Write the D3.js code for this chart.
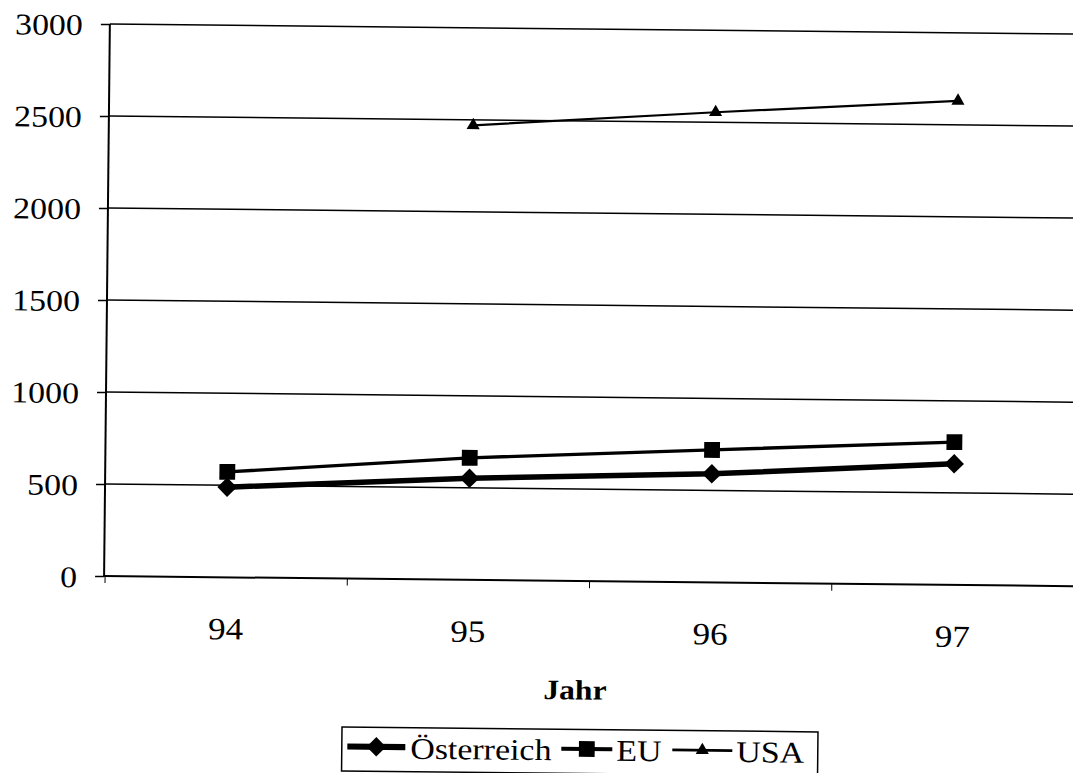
<!DOCTYPE html>
<meta charset="utf-8">
<style>
  body { margin: 0; background: #fff; }
  text { font-family: "Liberation Serif", "Times New Roman", serif; fill: #000; }
</style>
<script src="https://d3js.org/d3.v7.min.js"></script>
<div id="chart"></div>
<script>

// data
var years    = ["94", "95", "96", "97"];
var austria  = [490, 552, 590, 658];
var eu       = [573, 663, 720, 776];
var usa      = [null, 2470, 2555, 2630];
var yTicks   = [0, 500, 1000, 1500, 2000, 2500, 3000];
var names    = ["Österreich", "EU", "USA"];

var W = 1073, H = 773;
var plotLeft = 107, plotRight = 1077, plotTop = 28.5, plotBottom = 580.6;
var stretch = 1.13;   // the scan is a bit wider than a plain serif face

var svg = d3.select("#chart").append("svg")
    .attr("width", W).attr("height", H);

// the whole picture is slightly tilted, like the scan
var g = svg.append("g").attr("transform", "rotate(0.6, 540, 300)");

var x = d3.scaleBand().domain(years).range([plotLeft + 1, plotRight]);
var y = d3.scaleLinear().domain([0, 3000]).range([plotBottom, plotTop]);

function widen(sel) {
  sel.each(function() {
    var w = this.getComputedTextLength();
    d3.select(this).attr("textLength", w * stretch).attr("lengthAdjust", "spacingAndGlyphs");
  });
}

// horizontal grid lines
g.append("g").selectAll("line")
  .data(yTicks.filter(function(d) { return d > 0; }))
  .enter().append("line")
    .attr("x1", plotLeft).attr("x2", W + 20)
    .attr("y1", function(d) { return y(d); })
    .attr("y2", function(d) { return y(d); })
    .attr("stroke", "#000").attr("stroke-width", 1.5);

// y axis
var yAxis = g.append("g")
    .attr("transform", "translate(" + plotLeft + ",0)")
    .call(d3.axisLeft(y).tickValues(yTicks).tickFormat(d3.format("d"))
      .tickSize(9).tickPadding(18));
yAxis.select(".domain").remove();
yAxis.append("line").attr("x1", 0).attr("x2", 0).attr("y1", plotTop).attr("y2", plotBottom)
    .attr("stroke", "#000").attr("stroke-width", 2);
yAxis.selectAll(".tick line").attr("stroke", "#000").attr("stroke-width", 1.5);
yAxis.selectAll("text")
    .attr("font-family", "Liberation Serif").attr("font-size", 30)
    .attr("dy", "0.36em").call(widen);

// x axis
g.append("line").attr("x1", plotLeft).attr("x2", W + 20)
    .attr("y1", plotBottom).attr("y2", plotBottom)
    .attr("stroke", "#000").attr("stroke-width", 2);
var bounds = years.map(function(d) { return x(d); }).concat([x(years[3]) + x.bandwidth()]);
g.append("g").selectAll("line").data(bounds).enter().append("line")
    .attr("x1", function(d) { return d; }).attr("x2", function(d) { return d; })
    .attr("y1", plotBottom).attr("y2", plotBottom + 7)
    .attr("stroke", "#000").attr("stroke-width", 1);
var xAxis = g.append("g")
    .attr("transform", "translate(0," + plotBottom + ")")
    .call(d3.axisBottom(x).tickSize(0));
xAxis.select(".domain").remove();
xAxis.selectAll("text")
    .attr("font-family", "Liberation Serif").attr("font-size", 31)
    .attr("y", 62).attr("dy", 0).call(widen);

g.append("text")
    .attr("x", 579).attr("y", 699)
    .attr("text-anchor", "middle")
    .attr("font-size", 28).attr("font-weight", "bold")
    .text("Jahr").call(widen);

// series
var cx = function(i) { return x(years[i]) + x.bandwidth() / 2; };
var series = [
  { name: names[0], values: austria, width: 5.5, symbol: d3.symbolSquare,   size: 190, rot: 45 },
  { name: names[1], values: eu,      width: 3.4, symbol: d3.symbolSquare,   size: 250, rot: 0 },
  { name: names[2], values: usa,     width: 2.2, symbol: d3.symbolTriangle, size: 75,  rot: 0 }
];

var line = d3.line()
    .defined(function(d) { return d != null; })
    .x(function(d, i) { return cx(i); })
    .y(function(d) { return y(d); });

series.forEach(function(s) {
  g.append("path").datum(s.values)
    .attr("d", line)
    .attr("fill", "none").attr("stroke", "#000").attr("stroke-width", s.width);
  g.append("g").selectAll("path")
    .data(s.values.map(function(v, i) { return { v: v, i: i }; })
      .filter(function(d) { return d.v != null; }))
    .enter().append("path")
      .attr("d", d3.symbol().type(s.symbol).size(s.size))
      .attr("transform", function(d) {
        return "translate(" + cx(d.i) + "," + y(d.v) + ") rotate(" + s.rot + ")";
      })
      .attr("fill", "#000");
});

// legend
var lg = g.append("g");
lg.append("rect")
    .attr("x", 346.5).attr("y", 729).attr("width", 476).attr("height", 44)
    .attr("fill", "none").attr("stroke", "#000").attr("stroke-width", 1.5);
var legendPos = [
  { x1: 352, x2: 410, tx: 415 },
  { x1: 566, x2: 617, tx: 621 },
  { x1: 677, x2: 737, tx: 741 }
];
series.forEach(function(s, k) {
  var p = legendPos[k], ly = 748.5;
  lg.append("line").attr("x1", p.x1).attr("x2", p.x2).attr("y1", ly).attr("y2", ly)
    .attr("stroke", "#000").attr("stroke-width", s.width + 0.6);
  lg.append("path")
    .attr("d", d3.symbol().type(s.symbol).size(s.size))
    .attr("transform", "translate(" + (p.x1 + p.x2) / 2 + "," + ly + ") rotate(" + s.rot + ")")
    .attr("fill", "#000");
  lg.append("text").attr("x", p.tx).attr("y", 760)
    .attr("font-size", 30).text(s.name).call(widen);
});

</script>
